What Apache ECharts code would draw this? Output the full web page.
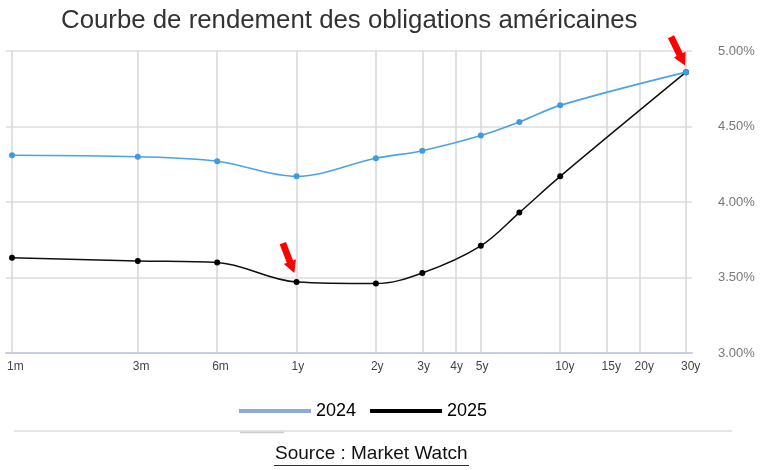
<!DOCTYPE html>
<html>
<head>
<meta charset="utf-8">
<script src="https://cdn.jsdelivr.net/npm/echarts@6/dist/echarts.min.js"></script>
<style>
html,body{margin:0;padding:0;background:#fff;}
#chart{width:763px;height:470px;}
</style>
</head>
<body>
<div id="chart"></div>
<script>
// maturities in months
var maturities = [1, 3, 6, 12, 24, 36, 60, 84, 120, 360];
var yields2024 = [4.31, 4.30, 4.27, 4.17, 4.29, 4.34, 4.44, 4.53, 4.64, 4.86];
var yields2025 = [3.63, 3.61, 3.60, 3.47, 3.46, 3.53, 3.71, 3.93, 4.17, 4.86];
var tickMonths = [1, 3, 6, 12, 24, 36, 48, 60, 120, 180, 240, 360];
var tickLabels = ['1m', '3m', '6m', '1y', '2y', '3y', '4y', '5y', '10y', '15y', '20y', '30y'];
var arrowPoints = [[12, 3.47], [360, 4.86]];

function pairs(xs, ys) { return xs.map(function (x, i) { return [x, ys[i]]; }); }

var arrowPath = 'path://M24,0 L76,0 L76,62 L100,62 L50,100 L0,62 L24,62 Z';

var chart = echarts.init(document.getElementById('chart'), null, { renderer: 'canvas' });
var option = {
  backgroundColor: '#ffffff',
  animation: false,
  title: {
    text: 'Courbe de rendement des obligations américaines',
    left: 56, top: 3,
    textStyle: { fontFamily: 'Liberation Sans', fontSize: 25.8, fontWeight: 'normal', color: '#333333' }
  },
  grid: { left: 6, right: 71, top: 51, bottom: 117, containLabel: false },
  xAxis: {
    type: 'log', logBase: 10, min: 0.9489, max: 379.4,
    axisLine: { show: true, lineStyle: { color: '#c5cfdf', width: 2 } },
    axisTick: { show: false, customValues: tickMonths },
    splitLine: { show: false },
    axisLabel: {
      customValues: tickMonths,
      formatter: function (v) {
        var i = tickMonths.indexOf(Math.round(v));
        return i >= 0 ? tickLabels[i] : '';
      },
      align: 'left', margin: 8, padding: [0, 0, 0, -5],
      fontFamily: 'Liberation Sans', fontSize: 12, color: '#444444'
    }
  },
  yAxis: {
    type: 'value', position: 'right', min: 3, max: 5, interval: 0.5,
    axisLine: { show: false }, axisTick: { show: false },
    splitLine: { show: true, lineStyle: { color: '#dcdcdc', width: 1.5 } },
    axisLabel: {
      formatter: function (v) { return v.toFixed(2) + '%'; },
      margin: 26, fontFamily: 'Liberation Sans', fontSize: 13, color: '#777777'
    }
  },
  legend: {
    left: 234, top: 397,
    itemWidth: 72, itemHeight: 4, itemGap: 14, itemTextGap: 10,
    textStyle: { fontFamily: 'Liberation Sans', fontSize: 18, color: '#000000' },
    data: [
      { name: '2024', icon: 'rect', itemStyle: { color: '#8eaad8' } },
      { name: '2025', icon: 'rect', itemStyle: { color: '#000000' } }
    ]
  },
  series: [
    {
      name: 'grid', type: 'line', data: [], silent: true, z: 0,
      markLine: {
        silent: true, symbol: 'none', label: { show: false }, z: 0,
        lineStyle: { color: '#d6d6d6', width: 1.5, type: 'solid' },
        data: tickMonths.map(function (m) { return { xAxis: m }; })
      }
    },
    {
      name: '2024', type: 'line', data: pairs(maturities, yields2024), z: 4,
      smooth: 0.35, symbol: 'circle', symbolSize: 6, showAllSymbol: true,
      itemStyle: { color: '#3d9be0', borderWidth: 0 },
      lineStyle: { color: '#4aa3e2', width: 1.6 }
    },
    {
      name: '2025', type: 'line', data: pairs(maturities, yields2025), z: 3,
      smooth: 0.35, symbol: 'circle', symbolSize: 6, showAllSymbol: true,
      itemStyle: { color: '#000000', borderWidth: 0 },
      lineStyle: { color: '#111111', width: 1.5 },
      markPoint: {
        silent: true, symbol: arrowPath, symbolSize: [13, 32], z: 6,
        itemStyle: { color: '#ff0000' }, label: { show: false },
        data: [
          { coord: arrowPoints[0], symbolRotate: 21, symbolOffset: [-8, -24] },
          { coord: arrowPoints[1], symbolRotate: 26, symbolOffset: [-8, -21] }
        ]
      }
    }
  ],
  graphic: [
    { type: 'line', shape: { x1: 14, y1: 431, x2: 732, y2: 431 }, style: { stroke: '#dddddd', lineWidth: 1.5 } },
    { type: 'line', shape: { x1: 240, y1: 432.5, x2: 284, y2: 432.5 }, style: { stroke: '#cccccc', lineWidth: 1.5 } },
    { type: 'text', left: 275, top: 444, style: { text: 'Source : Market Watch', font: '19px "Liberation Sans"', fill: '#111111' } },
    { type: 'line', shape: { x1: 274, y1: 465.5, x2: 469, y2: 465.5 }, style: { stroke: '#333333', lineWidth: 1 } }
  ]
};
chart.setOption(option);
</script>
</body>
</html>
